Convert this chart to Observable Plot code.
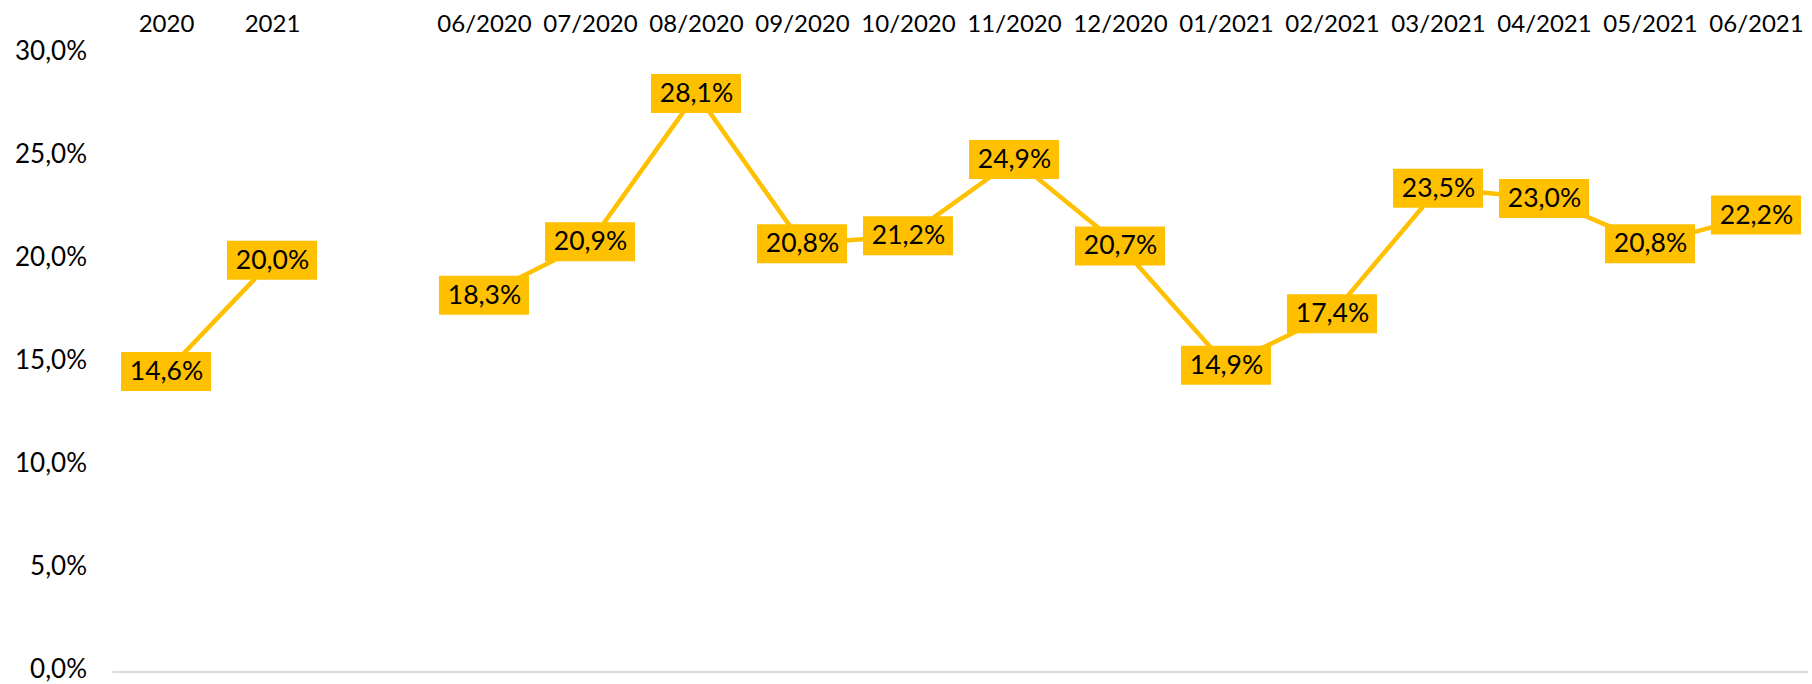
<!DOCTYPE html>
<html>
<head>
<meta charset="utf-8">
<script src="https://cdn.jsdelivr.net/npm/d3@7"></script>
<script src="https://cdn.jsdelivr.net/npm/@observablehq/plot@0.6"></script>
<style>
  html, body { margin: 0; padding: 0; background: #fff; }
  #chart svg { display: block; }
</style>
</head>
<body>
<div id="chart"></div>
<script>
const categories = ["2020", "2021", "", "06/2020", "07/2020", "08/2020", "09/2020", "10/2020", "11/2020", "12/2020", "01/2021", "02/2021", "03/2021", "04/2021", "05/2021", "06/2021"];
const values = [14.6, 20.0, null, 18.3, 20.9, 28.1, 20.8, 21.2, 24.9, 20.7, 14.9, 17.4, 23.5, 23.0, 20.8, 22.2];
const yTicks = [0, 5, 10, 15, 20, 25, 30];

const locale = d3.formatLocale({decimal: ",", thousands: ".", grouping: [3], currency: ["", "€"]});
const f1 = locale.format(".1f");
const pct = v => f1(v) + "%";

const data = categories.map((c, i) => ({cat: c, value: values[i]}));
const labeled = data.filter(d => d.value != null);

const gold = "#FFC000";

const chart = Plot.plot({
  width: 1812,
  height: 684,
  marginTop: 54,
  marginBottom: 12.5,
  marginLeft: 112.5,
  marginRight: 3.5,
  style: {fontFamily: "Lato, 'Open Sans', sans-serif", fontSize: "24px", color: "#000", background: "#fff"},
  x: {type: "band", domain: categories, padding: 0},
  y: {domain: [0, 30], ticks: yTicks},
  marks: [
    Plot.ruleY([0], {stroke: "#d9d9d9", strokeWidth: 2}),
    Plot.axisX({anchor: "top", tickSize: 0, tickPadding: 22.5, fontSize: 24, fill: "#000", label: null}),
    Plot.axisY({anchor: "left", ticks: yTicks, tickSize: 0, tickPadding: 26, dy: -2.5, fontSize: 26, fill: "#000", tickFormat: pct, label: null}),
    Plot.line(data, {x: "cat", y: "value", stroke: gold, strokeWidth: 4.5}),
    Plot.tickY(labeled, {x: "cat", y: "value", stroke: gold, strokeWidth: 39, insetLeft: 8, insetRight: 8, strokeOpacity: 1}),
    Plot.text(labeled, {x: "cat", y: "value", text: d => pct(d.value), fontSize: 26.5, fill: "#000"})
  ]
});

document.getElementById("chart").appendChild(chart);
</script>
</body>
</html>
